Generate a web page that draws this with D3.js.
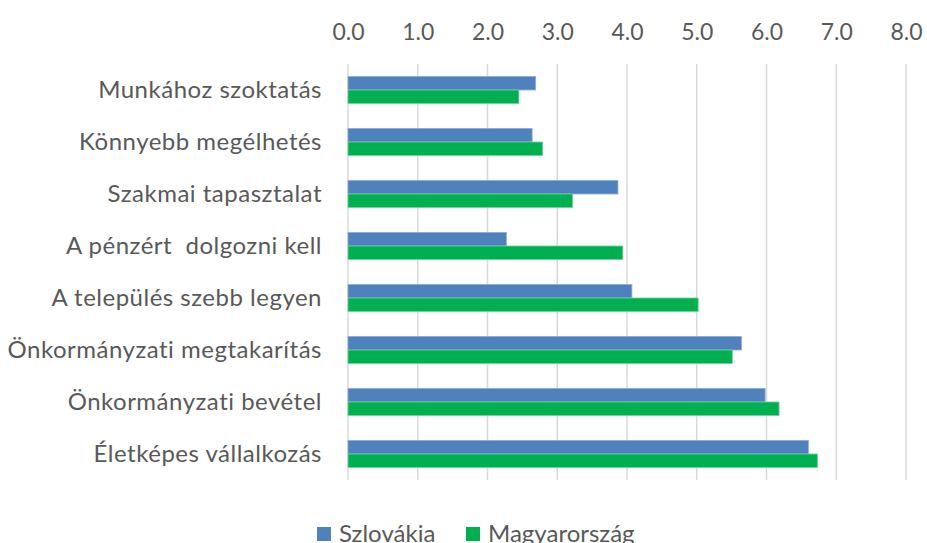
<!DOCTYPE html>
<html>
<head>
<meta charset="utf-8" />
<script src="https://d3js.org/d3.v7.min.js"></script>
<style>
  body { margin: 0; background: #fff; }
  svg { display: block; font-family: Lato, "Open Sans", sans-serif; }
</style>
</head>
<body>
<div id="viz"><svg width="927" height="543"></svg></div>
<script>
  // categories, top to bottom
  var categories = [
    "Munkához szoktatás",
    "Könnyebb megélhetés",
    "Szakmai tapasztalat",
    "A pénzért  dolgozni kell",
    "A település szebb legyen",
    "Önkormányzati megtakarítás",
    "Önkormányzati bevétel",
    "Életképes vállalkozás"
  ];
  var seriesNames = ["Szlovákia", "Magyarország"];
  var szlovakia = [2.69, 2.64, 3.87, 2.27, 4.07, 5.64, 5.98, 6.60];
  var magyarorszag = [2.45, 2.79, 3.22, 3.94, 5.02, 5.51, 6.18, 6.73];
  var tickValues = [0, 1, 2, 3, 4, 5, 6, 7, 8];
  var colors = ["#4f81bd", "#00b050"];

  var svg = d3.select("svg");
  var plotLeft = 348, plotRight = 906, plotTop = 64, plotBottom = 480;

  var x = d3.scaleLinear().domain([0, 8]).range([plotLeft, plotRight]);
  var y = d3.scaleBand().domain(categories).range([plotTop, plotBottom]).paddingInner(0.48).paddingOuter(0.24);
  var sub = d3.scaleBand().domain(seriesNames).range([0, y.bandwidth()]);

  // gridlines
  svg.append("g")
    .selectAll("line")
    .data(tickValues)
    .enter()
    .append("line")
    .attr("x1", function (d) { return x(d); })
    .attr("x2", function (d) { return x(d); })
    .attr("y1", plotTop)
    .attr("y2", plotBottom)
    .style("stroke", "#d9d9d9")
    .style("stroke-width", "1.5px");

  // top axis labels
  var xAxis = d3.axisTop(x)
    .tickValues(tickValues)
    .tickFormat(d3.format(".1f"))
    .tickSize(0)
    .tickPadding(0);
  var gx = svg.append("g").attr("transform", "translate(0,40)").call(xAxis);
  gx.select(".domain").remove();
  gx.selectAll("text")
    .style("font-family", "Lato, sans-serif")
    .style("font-size", "23px")
    .style("fill", "#595959");

  // bars
  var rows = categories.map(function (c, i) {
    return { cat: c, values: [szlovakia[i], magyarorszag[i]] };
  });
  var groups = svg.append("g")
    .selectAll("g")
    .data(rows)
    .enter()
    .append("g")
    .attr("transform", function (d) { return "translate(0," + y(d.cat) + ")"; });

  groups.selectAll("rect")
    .data(function (d) {
      return d.values.map(function (v, j) { return { name: seriesNames[j], v: v, j: j }; });
    })
    .enter()
    .append("rect")
    .attr("x", x(0))
    .attr("y", function (d) { return sub(d.name); })
    .attr("width", function (d) { return x(d.v) - x(0); })
    .attr("height", sub.bandwidth())
    .style("fill", function (d) { return colors[d.j]; })
    .style("stroke", function (d) { return d.j === 0 ? "#8eaadb" : "#6fd39a"; })
    .style("stroke-width", "0.8px");

  // category labels
  var yAxis = d3.axisLeft(y).tickSize(0).tickPadding(26);
  var gy = svg.append("g").attr("transform", "translate(" + plotLeft + ",0)").call(yAxis);
  gy.select(".domain").remove();
  gy.selectAll("text")
    .style("font-family", "Lato, sans-serif")
    .style("font-size", "24px")
    .style("letter-spacing", "0.5px")
    .style("fill", "#595959")
    .style("white-space", "pre");

  // legend
  var legendX = [317, 466];
  var legend = svg.append("g")
    .selectAll("g")
    .data(seriesNames)
    .enter()
    .append("g")
    .attr("transform", function (d, i) { return "translate(" + legendX[i] + ",527)"; });
  legend.append("rect")
    .attr("width", 14)
    .attr("height", 14)
    .style("fill", function (d, i) { return colors[i]; });
  legend.append("text")
    .attr("x", 22)
    .attr("y", 7)
    .attr("dy", "0.35em")
    .text(function (d) { return d; })
    .style("font-size", "24px")
    .style("fill", "#595959");
</script>
</body>
</html>
